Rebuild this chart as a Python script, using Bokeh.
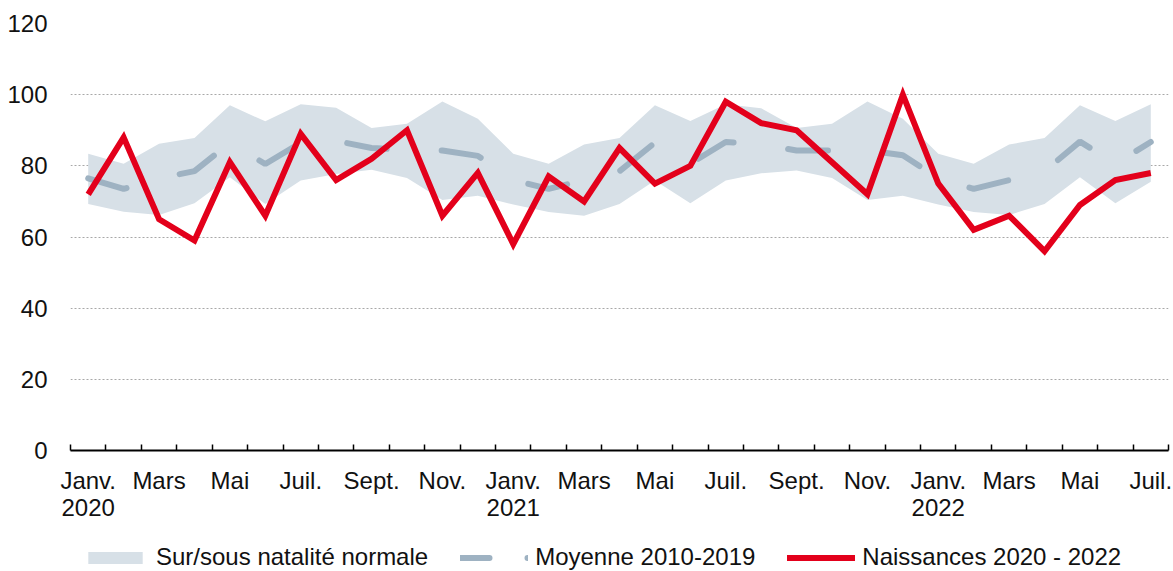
from bokeh.plotting import figure
from bokeh.layouts import column
from bokeh.models import (ColumnDataSource, FixedTicker, Legend, LegendItem, Range1d)
from bokeh.embed import file_html
from bokeh.resources import INLINE

# ---- data ----
periodes = ["2020-01", "2020-02", "2020-03", "2020-04", "2020-05", "2020-06",
            "2020-07", "2020-08", "2020-09", "2020-10", "2020-11", "2020-12",
            "2021-01", "2021-02", "2021-03", "2021-04", "2021-05", "2021-06",
            "2021-07", "2021-08", "2021-09", "2021-10", "2021-11", "2021-12",
            "2022-01", "2022-02", "2022-03", "2022-04", "2022-05", "2022-06",
            "2022-07"]
naissances = [72, 88, 65, 59, 81, 66, 89, 76, 82, 90, 66, 78,
              58, 77, 70, 85, 75, 80, 98, 92, 90, 81, 72, 100,
              75, 62, 66, 56, 69, 76, 78]
moyenne = [76.5, 73.5, 76.5, 78.5, 86.5, 80.5, 86.5, 87.0, 85.0, 84.5, 84.3, 82.8,
           76.0, 73.5, 76.0, 78.5, 86.5, 80.6, 86.7, 86.0, 84.3, 84.3, 84.3, 83.0,
           76.5, 73.5, 76.0, 78.5, 86.8, 80.6, 86.7]
haut = [83.4, 80.6, 86.2, 87.8, 97.0, 92.5, 97.3, 96.3, 90.6, 91.8, 98.1, 93.2,
        83.4, 80.6, 86.0, 87.8, 97.0, 92.6, 97.3, 96.2, 90.6, 91.8, 98.1, 93.2,
        83.4, 80.6, 86.0, 87.8, 97.0, 92.6, 97.3]
bas = [69.3, 67.1, 66.2, 69.5, 76.8, 69.3, 75.9, 77.7, 78.9, 76.6, 70.4, 71.6,
       69.1, 67.0, 66.0, 69.3, 75.9, 69.5, 75.9, 77.9, 78.7, 76.6, 70.4, 71.6,
       69.1, 67.0, 66.2, 69.3, 76.8, 69.5, 75.5]
etiquettes = ["Janv.\n2020", "Mars", "Mai", "Juil.", "Sept.", "Nov.",
              "Janv.\n2021", "Mars", "Mai", "Juil.", "Sept.", "Nov.",
              "Janv.\n2022", "Mars", "Mai", "Juil."]
y_ticks = [0, 20, 40, 60, 80, 100, 120]

FONT = "Liberation Sans"
RED = "#e3001b"
GREY_LINE = "#9eb2c2"
BAND = "#d7e0e7"
TXT = "#111111"
W = 1173

idx = list(range(len(periodes)))
src = ColumnDataSource(dict(x=idx, periode=periodes, naissances=naissances,
                            moyenne=moyenne, haut=haut, bas=bas))

p = figure(width=W, height=531, output_backend="svg", toolbar_location=None,
           x_range=Range1d(-0.5, len(periodes) - 0.5), y_range=Range1d(0, 120),
           min_border_left=70, min_border_right=5, min_border_top=23,
           min_border_bottom=81)
p.outline_line_color = None
p.background_fill_color = "white"
p.border_fill_color = "white"

band = p.varea(x="x", y1="bas", y2="haut", source=src, fill_color=BAND)
p.line(x="x", y="moyenne", source=src, line_color=GREY_LINE, line_width=6,
       line_dash="40 55", line_cap="round")
p.line(x="x", y="naissances", source=src, line_color=RED, line_width=6,
       line_join="miter")

# axes
xa = p.xaxis[0]
major = list(range(0, len(periodes), 2))
xa.ticker = FixedTicker(ticks=major, minor_ticks=[i - 0.5 for i in range(len(periodes) + 1)])
xa.major_label_overrides = {t: lab for t, lab in zip(major, etiquettes)}
xa.major_tick_in = 0
xa.major_tick_out = 0
xa.minor_tick_in = 6
xa.minor_tick_out = 0
xa.minor_tick_line_color = "black"
xa.minor_tick_line_width = 1.5
xa.axis_line_color = "black"
xa.axis_line_width = 2
xa.major_label_text_font = FONT
xa.major_label_text_font_size = "24px"
xa.major_label_text_color = TXT
xa.major_label_standoff = 16
xa.major_label_text_line_height = 1.0

ya = p.yaxis[0]
ya.ticker = FixedTicker(ticks=y_ticks)
ya.axis_line_color = None
ya.major_tick_line_color = None
ya.minor_tick_line_color = None
ya.major_label_text_font = FONT
ya.major_label_text_font_size = "24px"
ya.major_label_text_color = TXT
ya.major_label_standoff = 17

p.xgrid.grid_line_color = None
p.ygrid.ticker = FixedTicker(ticks=y_ticks[1:])
p.ygrid.grid_line_color = "#a8a8a8"
p.ygrid.grid_line_dash = "2 2"
p.ygrid.grid_line_width = 1

# ---- legend strip ----
lg = figure(width=W, height=40, output_backend="svg", toolbar_location=None,
            x_range=Range1d(0, 1), y_range=Range1d(0, 1),
            x_axis_location=None, y_axis_location=None,
            min_border_left=0, min_border_right=0, min_border_top=0,
            min_border_bottom=0)
lg.outline_line_color = None
lg.grid.visible = False
# one off-range point each, only so that the legend symbols are drawn
hors = ColumnDataSource(dict(x=[-10.0], y=[-10.0], y1=[-10.0], y2=[-10.0]))
band_leg = lg.varea(x="x", y1="y1", y2="y2", source=hors, fill_color=BAND)
mean_leg = lg.line(x="x", y="y", source=hors, line_color=GREY_LINE, line_width=6,
                   line_dash="29 38", line_cap="round")
red_leg = lg.line(x="x", y="y", source=hors, line_color=RED, line_width=6,
                  line_cap="round")

legend = Legend(items=[
    LegendItem(label="Sur/sous natalité normale", renderers=[band_leg]),
    LegendItem(label="Moyenne 2010-2019", renderers=[mean_leg]),
    LegendItem(label="Naissances 2020 - 2022", renderers=[red_leg]),
], orientation="horizontal", location=(11, 0), padding=0, margin=0,
   spacing=32, glyph_width=68, glyph_height=15, label_standoff=7,
   label_text_font=FONT, label_text_font_size="24px", label_text_color=TXT,
   label_height=24, border_line_color=None, background_fill_alpha=0)
lg.add_layout(legend, "center")

layout = column(p, lg, spacing=0)
open("out.html", "w").write(file_html(layout, INLINE))
